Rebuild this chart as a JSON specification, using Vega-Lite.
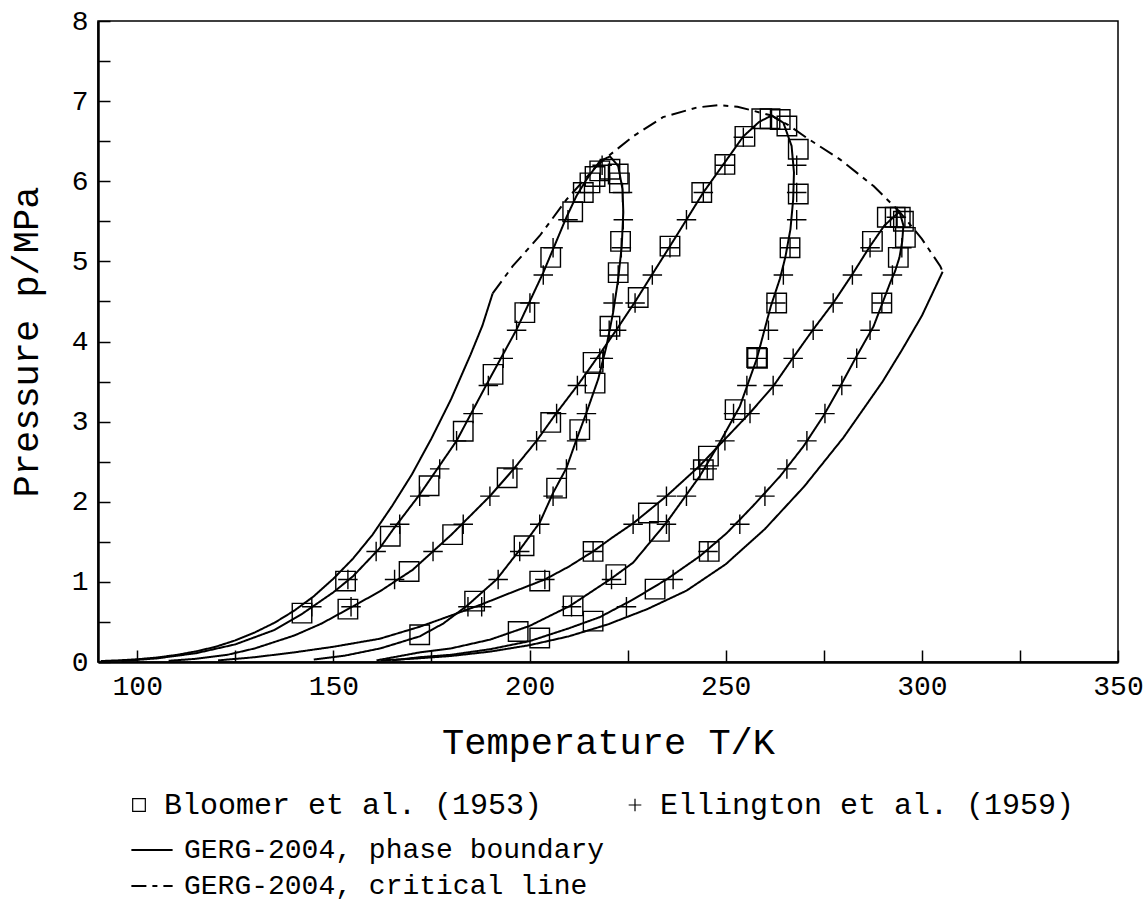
{
  "$schema": "https://vega.github.io/schema/vega-lite/v6.json",
  "width": 1020,
  "height": 641,
  "autosize": {"type": "none"},
  "padding": {"left": 98, "top": 21, "right": 28, "bottom": 242},
  "background": "white",
  "config": {
    "view": {"stroke": "black", "strokeWidth": 1.5},
    "font": "Liberation Mono",
    "axis": {
      "grid": false, "domainColor": "black", "domainWidth": 2.5,
      "tickColor": "black", "tickWidth": 1.5, "tickSize": -12,
      "labelFont": "Liberation Mono", "labelFontSize": 28, "labelColor": "black", "labelFlush": false,
      "titleFont": "Liberation Mono", "titleFontSize": 37, "titleFontWeight": "normal", "titleColor": "black"
    },
    "legend": {"padding": 0, "labelFont": "Liberation Mono", "labelColor": "black", "labelLimit": 0}
  },
  "datasets": {
    "curves": [
      {"curve":"CH4","kind":"GERG-2004, phase boundary","i":1,"T":90.7,"p":0.012},
      {"curve":"CH4","kind":"GERG-2004, phase boundary","i":2,"T":95,"p":0.02},
      {"curve":"CH4","kind":"GERG-2004, phase boundary","i":3,"T":100,"p":0.034},
      {"curve":"CH4","kind":"GERG-2004, phase boundary","i":4,"T":105,"p":0.056},
      {"curve":"CH4","kind":"GERG-2004, phase boundary","i":5,"T":110,"p":0.088},
      {"curve":"CH4","kind":"GERG-2004, phase boundary","i":6,"T":115,"p":0.133},
      {"curve":"CH4","kind":"GERG-2004, phase boundary","i":7,"T":120,"p":0.19},
      {"curve":"CH4","kind":"GERG-2004, phase boundary","i":8,"T":125,"p":0.27},
      {"curve":"CH4","kind":"GERG-2004, phase boundary","i":9,"T":130,"p":0.37},
      {"curve":"CH4","kind":"GERG-2004, phase boundary","i":10,"T":135,"p":0.49},
      {"curve":"CH4","kind":"GERG-2004, phase boundary","i":11,"T":140,"p":0.64},
      {"curve":"CH4","kind":"GERG-2004, phase boundary","i":12,"T":145,"p":0.82},
      {"curve":"CH4","kind":"GERG-2004, phase boundary","i":13,"T":150,"p":1.04},
      {"curve":"CH4","kind":"GERG-2004, phase boundary","i":14,"T":155,"p":1.29},
      {"curve":"CH4","kind":"GERG-2004, phase boundary","i":15,"T":160,"p":1.59},
      {"curve":"CH4","kind":"GERG-2004, phase boundary","i":16,"T":165,"p":1.95},
      {"curve":"CH4","kind":"GERG-2004, phase boundary","i":17,"T":170,"p":2.34},
      {"curve":"CH4","kind":"GERG-2004, phase boundary","i":18,"T":175,"p":2.79},
      {"curve":"CH4","kind":"GERG-2004, phase boundary","i":19,"T":180,"p":3.28},
      {"curve":"CH4","kind":"GERG-2004, phase boundary","i":20,"T":185,"p":3.84},
      {"curve":"CH4","kind":"GERG-2004, phase boundary","i":21,"T":188,"p":4.2},
      {"curve":"CH4","kind":"GERG-2004, phase boundary","i":22,"T":190.6,"p":4.6},

      {"curve":"A","kind":"GERG-2004, phase boundary","i":1,"T":96,"p":0.012},
      {"curve":"A","kind":"GERG-2004, phase boundary","i":2,"T":105,"p":0.045},
      {"curve":"A","kind":"GERG-2004, phase boundary","i":3,"T":115,"p":0.11},
      {"curve":"A","kind":"GERG-2004, phase boundary","i":4,"T":125,"p":0.22},
      {"curve":"A","kind":"GERG-2004, phase boundary","i":5,"T":135,"p":0.4},
      {"curve":"A","kind":"GERG-2004, phase boundary","i":6,"T":142,"p":0.6},
      {"curve":"A","kind":"GERG-2004, phase boundary","i":7,"T":150,"p":0.87},
      {"curve":"A","kind":"GERG-2004, phase boundary","i":8,"T":155,"p":1.07},
      {"curve":"A","kind":"GERG-2004, phase boundary","i":9,"T":161.8,"p":1.42},
      {"curve":"A","kind":"GERG-2004, phase boundary","i":10,"T":165.6,"p":1.68},
      {"curve":"A","kind":"GERG-2004, phase boundary","i":11,"T":172,"p":2.09},
      {"curve":"A","kind":"GERG-2004, phase boundary","i":12,"T":181.4,"p":2.76},
      {"curve":"A","kind":"GERG-2004, phase boundary","i":13,"T":189,"p":3.46},
      {"curve":"A","kind":"GERG-2004, phase boundary","i":14,"T":196.7,"p":4.15},
      {"curve":"A","kind":"GERG-2004, phase boundary","i":15,"T":203.5,"p":4.86},
      {"curve":"A","kind":"GERG-2004, phase boundary","i":16,"T":209.4,"p":5.55},
      {"curve":"A","kind":"GERG-2004, phase boundary","i":17,"T":212,"p":5.82},
      {"curve":"A","kind":"GERG-2004, phase boundary","i":18,"T":214.5,"p":6.02},
      {"curve":"A","kind":"GERG-2004, phase boundary","i":19,"T":217.9,"p":6.25},
      {"curve":"A","kind":"GERG-2004, phase boundary","i":20,"T":220.5,"p":6.31},
      {"curve":"A","kind":"GERG-2004, phase boundary","i":21,"T":222.6,"p":6.19},
      {"curve":"A","kind":"GERG-2004, phase boundary","i":22,"T":223.7,"p":5.9},
      {"curve":"A","kind":"GERG-2004, phase boundary","i":23,"T":223.9,"p":5.61},
      {"curve":"A","kind":"GERG-2004, phase boundary","i":24,"T":223.5,"p":5.19},
      {"curve":"A","kind":"GERG-2004, phase boundary","i":25,"T":222.6,"p":4.78},
      {"curve":"A","kind":"GERG-2004, phase boundary","i":26,"T":221.3,"p":4.36},
      {"curve":"A","kind":"GERG-2004, phase boundary","i":27,"T":219.6,"p":3.94},
      {"curve":"A","kind":"GERG-2004, phase boundary","i":28,"T":217.5,"p":3.53},
      {"curve":"A","kind":"GERG-2004, phase boundary","i":29,"T":214.5,"p":3.11},
      {"curve":"A","kind":"GERG-2004, phase boundary","i":30,"T":212,"p":2.78},
      {"curve":"A","kind":"GERG-2004, phase boundary","i":31,"T":209.4,"p":2.42},
      {"curve":"A","kind":"GERG-2004, phase boundary","i":32,"T":206,"p":2.11},
      {"curve":"A","kind":"GERG-2004, phase boundary","i":33,"T":202.6,"p":1.74},
      {"curve":"A","kind":"GERG-2004, phase boundary","i":34,"T":197.5,"p":1.4},
      {"curve":"A","kind":"GERG-2004, phase boundary","i":35,"T":191.6,"p":1.03},
      {"curve":"A","kind":"GERG-2004, phase boundary","i":36,"T":184,"p":0.7},
      {"curve":"A","kind":"GERG-2004, phase boundary","i":37,"T":178,"p":0.48},
      {"curve":"A","kind":"GERG-2004, phase boundary","i":38,"T":172,"p":0.32},
      {"curve":"A","kind":"GERG-2004, phase boundary","i":39,"T":162,"p":0.17},
      {"curve":"A","kind":"GERG-2004, phase boundary","i":40,"T":153,"p":0.08},
      {"curve":"A","kind":"GERG-2004, phase boundary","i":41,"T":145,"p":0.03},

      {"curve":"B","kind":"GERG-2004, phase boundary","i":1,"T":108,"p":0.015},
      {"curve":"B","kind":"GERG-2004, phase boundary","i":2,"T":115,"p":0.04},
      {"curve":"B","kind":"GERG-2004, phase boundary","i":3,"T":123,"p":0.09},
      {"curve":"B","kind":"GERG-2004, phase boundary","i":4,"T":130,"p":0.17},
      {"curve":"B","kind":"GERG-2004, phase boundary","i":5,"T":140,"p":0.33},
      {"curve":"B","kind":"GERG-2004, phase boundary","i":6,"T":147,"p":0.48},
      {"curve":"B","kind":"GERG-2004, phase boundary","i":7,"T":153.7,"p":0.66},
      {"curve":"B","kind":"GERG-2004, phase boundary","i":8,"T":161.8,"p":0.88},
      {"curve":"B","kind":"GERG-2004, phase boundary","i":9,"T":170.2,"p":1.15},
      {"curve":"B","kind":"GERG-2004, phase boundary","i":10,"T":180.1,"p":1.59},
      {"curve":"B","kind":"GERG-2004, phase boundary","i":11,"T":189.9,"p":2.07},
      {"curve":"B","kind":"GERG-2004, phase boundary","i":12,"T":195.8,"p":2.4},
      {"curve":"B","kind":"GERG-2004, phase boundary","i":13,"T":201.8,"p":2.76},
      {"curve":"B","kind":"GERG-2004, phase boundary","i":14,"T":206.9,"p":3.11},
      {"curve":"B","kind":"GERG-2004, phase boundary","i":15,"T":212.8,"p":3.49},
      {"curve":"B","kind":"GERG-2004, phase boundary","i":16,"T":218,"p":3.85},
      {"curve":"B","kind":"GERG-2004, phase boundary","i":17,"T":222.2,"p":4.15},
      {"curve":"B","kind":"GERG-2004, phase boundary","i":18,"T":226.7,"p":4.48},
      {"curve":"B","kind":"GERG-2004, phase boundary","i":19,"T":231.3,"p":4.84},
      {"curve":"B","kind":"GERG-2004, phase boundary","i":20,"T":235.8,"p":5.19},
      {"curve":"B","kind":"GERG-2004, phase boundary","i":21,"T":240,"p":5.52},
      {"curve":"B","kind":"GERG-2004, phase boundary","i":22,"T":244.3,"p":5.86},
      {"curve":"B","kind":"GERG-2004, phase boundary","i":23,"T":249.4,"p":6.21},
      {"curve":"B","kind":"GERG-2004, phase boundary","i":24,"T":254.5,"p":6.56},
      {"curve":"B","kind":"GERG-2004, phase boundary","i":25,"T":258.5,"p":6.74},
      {"curve":"B","kind":"GERG-2004, phase boundary","i":26,"T":261.7,"p":6.82},
      {"curve":"B","kind":"GERG-2004, phase boundary","i":27,"T":264.7,"p":6.73},
      {"curve":"B","kind":"GERG-2004, phase boundary","i":28,"T":266.8,"p":6.44},
      {"curve":"B","kind":"GERG-2004, phase boundary","i":29,"T":267.4,"p":6.11},
      {"curve":"B","kind":"GERG-2004, phase boundary","i":30,"T":267.2,"p":5.77},
      {"curve":"B","kind":"GERG-2004, phase boundary","i":31,"T":266.5,"p":5.4},
      {"curve":"B","kind":"GERG-2004, phase boundary","i":32,"T":265.2,"p":5.05},
      {"curve":"B","kind":"GERG-2004, phase boundary","i":33,"T":263.8,"p":4.78},
      {"curve":"B","kind":"GERG-2004, phase boundary","i":34,"T":261.5,"p":4.44},
      {"curve":"B","kind":"GERG-2004, phase boundary","i":35,"T":257.9,"p":3.78},
      {"curve":"B","kind":"GERG-2004, phase boundary","i":36,"T":253.6,"p":3.19},
      {"curve":"B","kind":"GERG-2004, phase boundary","i":37,"T":248.5,"p":2.74},
      {"curve":"B","kind":"GERG-2004, phase boundary","i":38,"T":243.4,"p":2.32},
      {"curve":"B","kind":"GERG-2004, phase boundary","i":39,"T":234.9,"p":1.74},
      {"curve":"B","kind":"GERG-2004, phase boundary","i":40,"T":226.4,"p":1.24},
      {"curve":"B","kind":"GERG-2004, phase boundary","i":41,"T":220.5,"p":1.03},
      {"curve":"B","kind":"GERG-2004, phase boundary","i":42,"T":210.3,"p":0.7},
      {"curve":"B","kind":"GERG-2004, phase boundary","i":43,"T":200,"p":0.45},
      {"curve":"B","kind":"GERG-2004, phase boundary","i":44,"T":190,"p":0.28},
      {"curve":"B","kind":"GERG-2004, phase boundary","i":45,"T":180,"p":0.17},
      {"curve":"B","kind":"GERG-2004, phase boundary","i":46,"T":172,"p":0.12},
      {"curve":"B","kind":"GERG-2004, phase boundary","i":47,"T":161,"p":0.02},

      {"curve":"C","kind":"GERG-2004, phase boundary","i":1,"T":120.6,"p":0.02},
      {"curve":"C","kind":"GERG-2004, phase boundary","i":2,"T":130,"p":0.06},
      {"curve":"C","kind":"GERG-2004, phase boundary","i":3,"T":140,"p":0.12},
      {"curve":"C","kind":"GERG-2004, phase boundary","i":4,"T":150,"p":0.19},
      {"curve":"C","kind":"GERG-2004, phase boundary","i":5,"T":161.8,"p":0.29},
      {"curve":"C","kind":"GERG-2004, phase boundary","i":6,"T":172,"p":0.44},
      {"curve":"C","kind":"GERG-2004, phase boundary","i":7,"T":180,"p":0.58},
      {"curve":"C","kind":"GERG-2004, phase boundary","i":8,"T":187.8,"p":0.72},
      {"curve":"C","kind":"GERG-2004, phase boundary","i":9,"T":195,"p":0.86},
      {"curve":"C","kind":"GERG-2004, phase boundary","i":10,"T":203.9,"p":1.03},
      {"curve":"C","kind":"GERG-2004, phase boundary","i":11,"T":210,"p":1.19},
      {"curve":"C","kind":"GERG-2004, phase boundary","i":12,"T":216.2,"p":1.38},
      {"curve":"C","kind":"GERG-2004, phase boundary","i":13,"T":221,"p":1.55},
      {"curve":"C","kind":"GERG-2004, phase boundary","i":14,"T":226.4,"p":1.73},
      {"curve":"C","kind":"GERG-2004, phase boundary","i":15,"T":234.9,"p":2.07},
      {"curve":"C","kind":"GERG-2004, phase boundary","i":16,"T":243.4,"p":2.45},
      {"curve":"C","kind":"GERG-2004, phase boundary","i":17,"T":249.4,"p":2.76},
      {"curve":"C","kind":"GERG-2004, phase boundary","i":18,"T":256.2,"p":3.11},
      {"curve":"C","kind":"GERG-2004, phase boundary","i":19,"T":262.1,"p":3.44},
      {"curve":"C","kind":"GERG-2004, phase boundary","i":20,"T":267.2,"p":3.8},
      {"curve":"C","kind":"GERG-2004, phase boundary","i":21,"T":272.3,"p":4.15},
      {"curve":"C","kind":"GERG-2004, phase boundary","i":22,"T":277.4,"p":4.48},
      {"curve":"C","kind":"GERG-2004, phase boundary","i":23,"T":282.3,"p":4.84},
      {"curve":"C","kind":"GERG-2004, phase boundary","i":24,"T":286.8,"p":5.19},
      {"curve":"C","kind":"GERG-2004, phase boundary","i":25,"T":290.5,"p":5.45},
      {"curve":"C","kind":"GERG-2004, phase boundary","i":26,"T":294.3,"p":5.62},
      {"curve":"C","kind":"GERG-2004, phase boundary","i":27,"T":295.3,"p":5.45},
      {"curve":"C","kind":"GERG-2004, phase boundary","i":28,"T":295,"p":5.25},
      {"curve":"C","kind":"GERG-2004, phase boundary","i":29,"T":294.3,"p":5.05},
      {"curve":"C","kind":"GERG-2004, phase boundary","i":30,"T":293.2,"p":4.88},
      {"curve":"C","kind":"GERG-2004, phase boundary","i":31,"T":291.9,"p":4.73},
      {"curve":"C","kind":"GERG-2004, phase boundary","i":32,"T":287.7,"p":4.19},
      {"curve":"C","kind":"GERG-2004, phase boundary","i":33,"T":283.4,"p":3.82},
      {"curve":"C","kind":"GERG-2004, phase boundary","i":34,"T":279.2,"p":3.44},
      {"curve":"C","kind":"GERG-2004, phase boundary","i":35,"T":274.9,"p":3.07},
      {"curve":"C","kind":"GERG-2004, phase boundary","i":36,"T":269.8,"p":2.69},
      {"curve":"C","kind":"GERG-2004, phase boundary","i":37,"T":263.9,"p":2.32},
      {"curve":"C","kind":"GERG-2004, phase boundary","i":38,"T":257,"p":1.95},
      {"curve":"C","kind":"GERG-2004, phase boundary","i":39,"T":250.3,"p":1.61},
      {"curve":"C","kind":"GERG-2004, phase boundary","i":40,"T":243.4,"p":1.32},
      {"curve":"C","kind":"GERG-2004, phase boundary","i":41,"T":234.9,"p":1.03},
      {"curve":"C","kind":"GERG-2004, phase boundary","i":42,"T":226.4,"p":0.78},
      {"curve":"C","kind":"GERG-2004, phase boundary","i":43,"T":217.9,"p":0.56},
      {"curve":"C","kind":"GERG-2004, phase boundary","i":44,"T":210,"p":0.42},
      {"curve":"C","kind":"GERG-2004, phase boundary","i":45,"T":200,"p":0.26},
      {"curve":"C","kind":"GERG-2004, phase boundary","i":46,"T":190,"p":0.16},
      {"curve":"C","kind":"GERG-2004, phase boundary","i":47,"T":180,"p":0.09},
      {"curve":"C","kind":"GERG-2004, phase boundary","i":48,"T":172,"p":0.06},
      {"curve":"C","kind":"GERG-2004, phase boundary","i":49,"T":165,"p":0.02},

      {"curve":"C2H6","kind":"GERG-2004, phase boundary","i":1,"T":162,"p":0.02},
      {"curve":"C2H6","kind":"GERG-2004, phase boundary","i":2,"T":170,"p":0.04},
      {"curve":"C2H6","kind":"GERG-2004, phase boundary","i":3,"T":180,"p":0.075},
      {"curve":"C2H6","kind":"GERG-2004, phase boundary","i":4,"T":190,"p":0.13},
      {"curve":"C2H6","kind":"GERG-2004, phase boundary","i":5,"T":200,"p":0.21},
      {"curve":"C2H6","kind":"GERG-2004, phase boundary","i":6,"T":210,"p":0.32},
      {"curve":"C2H6","kind":"GERG-2004, phase boundary","i":7,"T":220,"p":0.47},
      {"curve":"C2H6","kind":"GERG-2004, phase boundary","i":8,"T":230,"p":0.66},
      {"curve":"C2H6","kind":"GERG-2004, phase boundary","i":9,"T":240,"p":0.89},
      {"curve":"C2H6","kind":"GERG-2004, phase boundary","i":10,"T":250,"p":1.22},
      {"curve":"C2H6","kind":"GERG-2004, phase boundary","i":11,"T":260,"p":1.66},
      {"curve":"C2H6","kind":"GERG-2004, phase boundary","i":12,"T":270,"p":2.19},
      {"curve":"C2H6","kind":"GERG-2004, phase boundary","i":13,"T":280,"p":2.8},
      {"curve":"C2H6","kind":"GERG-2004, phase boundary","i":14,"T":290,"p":3.5},
      {"curve":"C2H6","kind":"GERG-2004, phase boundary","i":15,"T":295,"p":3.9},
      {"curve":"C2H6","kind":"GERG-2004, phase boundary","i":16,"T":300,"p":4.32},
      {"curve":"C2H6","kind":"GERG-2004, phase boundary","i":17,"T":305.3,"p":4.87},

      {"curve":"crit","kind":"GERG-2004, critical line","i":1,"T":190.6,"p":4.6},
      {"curve":"crit","kind":"GERG-2004, critical line","i":2,"T":195.7,"p":4.94},
      {"curve":"crit","kind":"GERG-2004, critical line","i":3,"T":202.6,"p":5.32},
      {"curve":"crit","kind":"GERG-2004, critical line","i":4,"T":209.4,"p":5.77},
      {"curve":"crit","kind":"GERG-2004, critical line","i":5,"T":217.1,"p":6.19},
      {"curve":"crit","kind":"GERG-2004, critical line","i":6,"T":220.5,"p":6.33},
      {"curve":"crit","kind":"GERG-2004, critical line","i":7,"T":226.4,"p":6.56},
      {"curve":"crit","kind":"GERG-2004, critical line","i":8,"T":234,"p":6.8},
      {"curve":"crit","kind":"GERG-2004, critical line","i":9,"T":242.6,"p":6.92},
      {"curve":"crit","kind":"GERG-2004, critical line","i":10,"T":248,"p":6.95},
      {"curve":"crit","kind":"GERG-2004, critical line","i":11,"T":253,"p":6.93},
      {"curve":"crit","kind":"GERG-2004, critical line","i":12,"T":257,"p":6.88},
      {"curve":"crit","kind":"GERG-2004, critical line","i":13,"T":261.7,"p":6.82},
      {"curve":"crit","kind":"GERG-2004, critical line","i":14,"T":266,"p":6.7},
      {"curve":"crit","kind":"GERG-2004, critical line","i":15,"T":270.7,"p":6.54},
      {"curve":"crit","kind":"GERG-2004, critical line","i":16,"T":279.2,"p":6.27},
      {"curve":"crit","kind":"GERG-2004, critical line","i":17,"T":287.7,"p":5.94},
      {"curve":"crit","kind":"GERG-2004, critical line","i":18,"T":294.3,"p":5.62},
      {"curve":"crit","kind":"GERG-2004, critical line","i":19,"T":300,"p":5.28},
      {"curve":"crit","kind":"GERG-2004, critical line","i":20,"T":304.7,"p":4.94},
      {"curve":"crit","kind":"GERG-2004, critical line","i":21,"T":305.3,"p":4.87}
    ],
    "points": [
      {"source":"Bloomer et al. (1953)","T":142,"p":0.61},
      {"source":"Bloomer et al. (1953)","T":153.1,"p":1.01},
      {"source":"Bloomer et al. (1953)","T":164.5,"p":1.57},
      {"source":"Bloomer et al. (1953)","T":174.4,"p":2.2},
      {"source":"Bloomer et al. (1953)","T":183.1,"p":2.88},
      {"source":"Bloomer et al. (1953)","T":190.7,"p":3.59},
      {"source":"Bloomer et al. (1953)","T":198.8,"p":4.36},
      {"source":"Bloomer et al. (1953)","T":205.4,"p":5.05},
      {"source":"Bloomer et al. (1953)","T":211,"p":5.62},
      {"source":"Bloomer et al. (1953)","T":213.7,"p":5.86},
      {"source":"Bloomer et al. (1953)","T":215.4,"p":5.98},
      {"source":"Bloomer et al. (1953)","T":216.7,"p":6.06},
      {"source":"Bloomer et al. (1953)","T":217.9,"p":6.13},
      {"source":"Bloomer et al. (1953)","T":220.5,"p":6.15},
      {"source":"Bloomer et al. (1953)","T":222.6,"p":6.09},
      {"source":"Bloomer et al. (1953)","T":222.9,"p":5.98},
      {"source":"Bloomer et al. (1953)","T":223.2,"p":5.25},
      {"source":"Bloomer et al. (1953)","T":222.6,"p":4.86},
      {"source":"Bloomer et al. (1953)","T":220.5,"p":4.19},
      {"source":"Bloomer et al. (1953)","T":216.2,"p":3.74},
      {"source":"Bloomer et al. (1953)","T":216.7,"p":3.48},
      {"source":"Bloomer et al. (1953)","T":212.8,"p":2.9},
      {"source":"Bloomer et al. (1953)","T":206.9,"p":2.17},
      {"source":"Bloomer et al. (1953)","T":198.6,"p":1.45},
      {"source":"Bloomer et al. (1953)","T":186,"p":0.76},
      {"source":"Bloomer et al. (1953)","T":153.7,"p":0.66},
      {"source":"Bloomer et al. (1953)","T":169.3,"p":1.13},
      {"source":"Bloomer et al. (1953)","T":180.4,"p":1.59},
      {"source":"Bloomer et al. (1953)","T":194.3,"p":2.3},
      {"source":"Bloomer et al. (1953)","T":205.4,"p":2.99},
      {"source":"Bloomer et al. (1953)","T":227.7,"p":4.55},
      {"source":"Bloomer et al. (1953)","T":235.8,"p":5.19},
      {"source":"Bloomer et al. (1953)","T":243.9,"p":5.86},
      {"source":"Bloomer et al. (1953)","T":249.8,"p":6.21},
      {"source":"Bloomer et al. (1953)","T":254.9,"p":6.56},
      {"source":"Bloomer et al. (1953)","T":259.2,"p":6.78},
      {"source":"Bloomer et al. (1953)","T":261.3,"p":6.78},
      {"source":"Bloomer et al. (1953)","T":263.9,"p":6.77},
      {"source":"Bloomer et al. (1953)","T":265.6,"p":6.69},
      {"source":"Bloomer et al. (1953)","T":268.5,"p":6.4},
      {"source":"Bloomer et al. (1953)","T":268.5,"p":5.84},
      {"source":"Bloomer et al. (1953)","T":266.4,"p":5.17},
      {"source":"Bloomer et al. (1953)","T":263,"p":4.48},
      {"source":"Bloomer et al. (1953)","T":257.9,"p":3.8},
      {"source":"Bloomer et al. (1953)","T":258.1,"p":3.79},
      {"source":"Bloomer et al. (1953)","T":252.4,"p":3.15},
      {"source":"Bloomer et al. (1953)","T":245.6,"p":2.57},
      {"source":"Bloomer et al. (1953)","T":244.3,"p":2.4},
      {"source":"Bloomer et al. (1953)","T":233.1,"p":1.63},
      {"source":"Bloomer et al. (1953)","T":222,"p":1.09},
      {"source":"Bloomer et al. (1953)","T":211.1,"p":0.7},
      {"source":"Bloomer et al. (1953)","T":197.1,"p":0.38},
      {"source":"Bloomer et al. (1953)","T":172,"p":0.34},
      {"source":"Bloomer et al. (1953)","T":202.6,"p":1.01},
      {"source":"Bloomer et al. (1953)","T":216.2,"p":1.38},
      {"source":"Bloomer et al. (1953)","T":230.3,"p":1.86},
      {"source":"Bloomer et al. (1953)","T":287.4,"p":5.25},
      {"source":"Bloomer et al. (1953)","T":291.2,"p":5.55},
      {"source":"Bloomer et al. (1953)","T":293.2,"p":5.55},
      {"source":"Bloomer et al. (1953)","T":294.5,"p":5.55},
      {"source":"Bloomer et al. (1953)","T":295.3,"p":5.5},
      {"source":"Bloomer et al. (1953)","T":295.8,"p":5.3},
      {"source":"Bloomer et al. (1953)","T":294,"p":5.05},
      {"source":"Bloomer et al. (1953)","T":289.8,"p":4.48},
      {"source":"Bloomer et al. (1953)","T":245.8,"p":1.38},
      {"source":"Bloomer et al. (1953)","T":232,"p":0.91},
      {"source":"Bloomer et al. (1953)","T":216.2,"p":0.51},
      {"source":"Bloomer et al. (1953)","T":202.6,"p":0.3},

      {"source":"Ellington et al. (1959)","T":144.5,"p":0.69},
      {"source":"Ellington et al. (1959)","T":153.7,"p":1.03},
      {"source":"Ellington et al. (1959)","T":160.9,"p":1.38},
      {"source":"Ellington et al. (1959)","T":166.9,"p":1.72},
      {"source":"Ellington et al. (1959)","T":172,"p":2.07},
      {"source":"Ellington et al. (1959)","T":177.1,"p":2.41},
      {"source":"Ellington et al. (1959)","T":181.4,"p":2.76},
      {"source":"Ellington et al. (1959)","T":185.6,"p":3.1},
      {"source":"Ellington et al. (1959)","T":189.5,"p":3.45},
      {"source":"Ellington et al. (1959)","T":193.3,"p":3.79},
      {"source":"Ellington et al. (1959)","T":196.7,"p":4.14},
      {"source":"Ellington et al. (1959)","T":200.1,"p":4.48},
      {"source":"Ellington et al. (1959)","T":203.5,"p":4.83},
      {"source":"Ellington et al. (1959)","T":206,"p":5.17},
      {"source":"Ellington et al. (1959)","T":209.8,"p":5.52},
      {"source":"Ellington et al. (1959)","T":214,"p":5.86},
      {"source":"Ellington et al. (1959)","T":218.5,"p":6.2},
      {"source":"Ellington et al. (1959)","T":223.7,"p":5.86},
      {"source":"Ellington et al. (1959)","T":223.9,"p":5.52},
      {"source":"Ellington et al. (1959)","T":223.4,"p":5.17},
      {"source":"Ellington et al. (1959)","T":222.6,"p":4.83},
      {"source":"Ellington et al. (1959)","T":221.3,"p":4.48},
      {"source":"Ellington et al. (1959)","T":220.3,"p":4.14},
      {"source":"Ellington et al. (1959)","T":218.8,"p":3.79},
      {"source":"Ellington et al. (1959)","T":214.5,"p":3.1},
      {"source":"Ellington et al. (1959)","T":212,"p":2.76},
      {"source":"Ellington et al. (1959)","T":209.4,"p":2.41},
      {"source":"Ellington et al. (1959)","T":206,"p":2.07},
      {"source":"Ellington et al. (1959)","T":202.6,"p":1.72},
      {"source":"Ellington et al. (1959)","T":197.5,"p":1.38},
      {"source":"Ellington et al. (1959)","T":192,"p":1.03},
      {"source":"Ellington et al. (1959)","T":184.3,"p":0.69},
      {"source":"Ellington et al. (1959)","T":154.5,"p":0.69},
      {"source":"Ellington et al. (1959)","T":165.6,"p":1.03},
      {"source":"Ellington et al. (1959)","T":175.4,"p":1.38},
      {"source":"Ellington et al. (1959)","T":183.1,"p":1.72},
      {"source":"Ellington et al. (1959)","T":189.9,"p":2.07},
      {"source":"Ellington et al. (1959)","T":195.8,"p":2.41},
      {"source":"Ellington et al. (1959)","T":201.8,"p":2.76},
      {"source":"Ellington et al. (1959)","T":206.9,"p":3.1},
      {"source":"Ellington et al. (1959)","T":212.2,"p":3.45},
      {"source":"Ellington et al. (1959)","T":217.9,"p":3.79},
      {"source":"Ellington et al. (1959)","T":222.2,"p":4.14},
      {"source":"Ellington et al. (1959)","T":226.9,"p":4.48},
      {"source":"Ellington et al. (1959)","T":231.3,"p":4.83},
      {"source":"Ellington et al. (1959)","T":235.8,"p":5.17},
      {"source":"Ellington et al. (1959)","T":240,"p":5.52},
      {"source":"Ellington et al. (1959)","T":244.3,"p":5.86},
      {"source":"Ellington et al. (1959)","T":249.8,"p":6.2},
      {"source":"Ellington et al. (1959)","T":254.5,"p":6.55},
      {"source":"Ellington et al. (1959)","T":268.1,"p":6.2},
      {"source":"Ellington et al. (1959)","T":268.1,"p":5.86},
      {"source":"Ellington et al. (1959)","T":268.1,"p":5.52},
      {"source":"Ellington et al. (1959)","T":266.4,"p":5.17},
      {"source":"Ellington et al. (1959)","T":264.7,"p":4.83},
      {"source":"Ellington et al. (1959)","T":262.8,"p":4.48},
      {"source":"Ellington et al. (1959)","T":260.9,"p":4.14},
      {"source":"Ellington et al. (1959)","T":258,"p":3.79},
      {"source":"Ellington et al. (1959)","T":255.4,"p":3.45},
      {"source":"Ellington et al. (1959)","T":252,"p":3.1},
      {"source":"Ellington et al. (1959)","T":249.8,"p":2.76},
      {"source":"Ellington et al. (1959)","T":245.3,"p":2.41},
      {"source":"Ellington et al. (1959)","T":240,"p":2.07},
      {"source":"Ellington et al. (1959)","T":234.9,"p":1.72},
      {"source":"Ellington et al. (1959)","T":220.9,"p":1.03},
      {"source":"Ellington et al. (1959)","T":210.7,"p":0.69},
      {"source":"Ellington et al. (1959)","T":187.8,"p":0.69},
      {"source":"Ellington et al. (1959)","T":203.9,"p":1.03},
      {"source":"Ellington et al. (1959)","T":216.2,"p":1.38},
      {"source":"Ellington et al. (1959)","T":226.4,"p":1.72},
      {"source":"Ellington et al. (1959)","T":234.9,"p":2.07},
      {"source":"Ellington et al. (1959)","T":243.4,"p":2.41},
      {"source":"Ellington et al. (1959)","T":256.2,"p":3.1},
      {"source":"Ellington et al. (1959)","T":262.1,"p":3.45},
      {"source":"Ellington et al. (1959)","T":267.2,"p":3.79},
      {"source":"Ellington et al. (1959)","T":272.3,"p":4.14},
      {"source":"Ellington et al. (1959)","T":277.4,"p":4.48},
      {"source":"Ellington et al. (1959)","T":282.3,"p":4.83},
      {"source":"Ellington et al. (1959)","T":286.8,"p":5.17},
      {"source":"Ellington et al. (1959)","T":293.5,"p":5.55},
      {"source":"Ellington et al. (1959)","T":294.9,"p":5.17},
      {"source":"Ellington et al. (1959)","T":292.5,"p":4.83},
      {"source":"Ellington et al. (1959)","T":289.8,"p":4.48},
      {"source":"Ellington et al. (1959)","T":286.8,"p":4.14},
      {"source":"Ellington et al. (1959)","T":283.4,"p":3.79},
      {"source":"Ellington et al. (1959)","T":279.6,"p":3.45},
      {"source":"Ellington et al. (1959)","T":275.3,"p":3.1},
      {"source":"Ellington et al. (1959)","T":270.7,"p":2.76},
      {"source":"Ellington et al. (1959)","T":265.6,"p":2.41},
      {"source":"Ellington et al. (1959)","T":260,"p":2.07},
      {"source":"Ellington et al. (1959)","T":253.6,"p":1.72},
      {"source":"Ellington et al. (1959)","T":245.5,"p":1.38},
      {"source":"Ellington et al. (1959)","T":236.6,"p":1.03},
      {"source":"Ellington et al. (1959)","T":224.7,"p":0.69}
    ]
  },
  "encoding": {
    "x": {
      "field": "T", "type": "quantitative",
      "scale": {"domain": [90, 350], "nice": false, "zero": false},
      "axis": {
        "title": "Temperature T/K",
        "values": [100, 125, 150, 175, 200, 225, 250, 275, 300, 325, 350],
        "labelExpr": "datum.value % 50 === 0 ? format(datum.value, 'd') : ''",
        "labelPadding": 22, "titlePadding": 24
      }
    },
    "y": {
      "field": "p", "type": "quantitative",
      "scale": {"domain": [0, 8], "nice": false, "zero": false},
      "axis": {
        "title": "Pressure p/MPa",
        "values": [0, 0.5, 1, 1.5, 2, 2.5, 3, 3.5, 4, 4.5, 5, 5.5, 6, 6.5, 7, 7.5, 8],
        "labelExpr": "datum.value % 1 === 0 ? format(datum.value, 'd') : ''",
        "labelPadding": 22, "titlePadding": 26
      }
    }
  },
  "layer": [
    {
      "data": {"name": "curves"},
      "mark": {"type": "line", "color": "black", "strokeWidth": 2},
      "encoding": {
        "detail": {"field": "curve", "type": "nominal"},
        "order": {"field": "i", "type": "quantitative"},
        "strokeDash": {
          "field": "kind", "type": "nominal",
          "scale": {"domain": ["GERG-2004, phase boundary", "GERG-2004, critical line"], "range": [[1, 0], [15, 6, 5, 6]]},
          "legend": {
            "title": null, "orient": "none", "legendX": 32, "legendY": 807,
            "direction": "vertical", "symbolType": "stroke", "symbolSize": 1700,
            "symbolStrokeColor": "black", "symbolStrokeWidth": 2,
            "labelFontSize": 28, "labelOffset": 10, "rowPadding": -10
          }
        }
      }
    },
    {
      "data": {"name": "points"},
      "mark": {"type": "point", "filled": false, "color": "black", "strokeWidth": 1.4, "size": 380, "opacity": 1},
      "encoding": {
        "shape": {
          "field": "source", "type": "nominal",
          "scale": {"domain": ["Bloomer et al. (1953)", "Ellington et al. (1959)"], "range": ["square", "M-1,0H1M0,-1V1"]},
          "legend": {
            "title": null, "orient": "none", "legendX": 26, "legendY": 769,
            "direction": "horizontal", "columnPadding": 77,
            "symbolSize": 160, "symbolStrokeColor": "black", "symbolStrokeWidth": 1.2,
            "labelFontSize": 30, "labelOffset": 10
          }
        }
      }
    }
  ]
}
